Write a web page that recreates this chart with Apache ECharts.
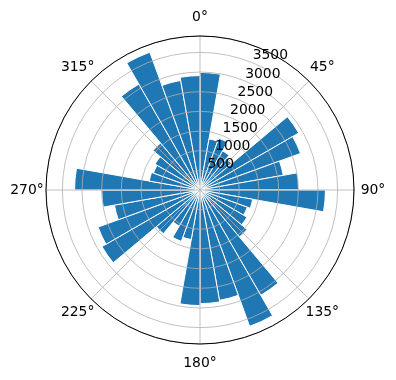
<!DOCTYPE html>
<html>
<head>
<meta charset="utf-8">
<script src="https://cdn.jsdelivr.net/npm/echarts@6/dist/echarts.min.js"></script>
<style>
  html, body { margin: 0; padding: 0; background: #fff; }
  #main { width: 396px; height: 380px; }
</style>
</head>
<body>
<div id="main"></div>
<script>
// bar centres, degrees clockwise from north (each bar 10° wide)
const directions = [5, 15, 25, 35, 45, 55, 65, 75, 85, 95, 105, 115,
  125, 135, 145, 155, 165, 175, 185, 195, 205, 215, 225, 235,
  245, 255, 265, 275, 285, 295, 305, 315, 325, 335, 345, 355];
const counts = [2990, 1320, 1400, 1150, 1050, 2900, 2720, 2150, 2510, 3190, 1360, 1280,
  1380, 1560, 3090, 3690, 2850, 2890, 2940, 1280, 1390, 1060, 1450, 2880,
  2760, 2210, 2500, 3190, 1310, 1260, 1320, 1560, 3110, 3730, 2830, 2910];
const thetaTicks = [0, 45, 90, 135, 180, 225, 270, 315];
const rTicks = [500, 1000, 1500, 2000, 2500, 3000, 3500];

// matplotlib-like 5% margin on the radial limit
const rMax = Math.max(...counts) * 1.05;

const FONT = 'DejaVu Sans';
const GRID = '#b0b0b0';
const center = [200, 190];
const radius = 154;
const PAD = 19; // theta label centre distance outside the circle

// echarts aligns angle labels by their corner/edge; wrap them in a box so the
// text centre ends up PAD px outside the circle (like matplotlib)
const txt = {fontSize: 13.9, fontFamily: FONT, color: '#000', align: 'center', verticalAlign: 'middle'};
const axBox = 2 * PAD;
const dgBox = 2 * PAD * Math.SQRT1_2;

const chart = echarts.init(document.getElementById('main'), null, {renderer: 'canvas'});

chart.setOption({
  animation: false,
  backgroundColor: '#fff',
  textStyle: {fontFamily: FONT},
  polar: [
    {center: center, radius: radius},   // bars
    {center: center, radius: radius},   // grid + theta labels
    {center: center, radius: radius}    // r labels at 22.5°
  ],
  angleAxis: [
    {
      polarIndex: 0, type: 'category', data: directions.map(d => d + '°'),
      startAngle: 90, clockwise: true, boundaryGap: true,
      axisLine: {show: false}, axisTick: {show: false},
      axisLabel: {show: false}, splitLine: {show: false}
    },
    {
      polarIndex: 1, type: 'value', min: 0, max: 360, interval: 45,
      startAngle: 90, clockwise: true, z: 4,
      axisLine: {show: true, lineStyle: {color: '#000', width: 1}},
      axisTick: {show: false},
      axisLabel: {
        show: true, margin: 0,
        formatter: v => {
          if (!thetaTicks.includes(v)) return '';
          return (v % 90 === 0 ? '{ax|' : '{dg|') + v + '°}';
        },
        rich: {
          ax: Object.assign({width: axBox, height: axBox, lineHeight: axBox}, txt),
          dg: Object.assign({width: dgBox, height: dgBox, lineHeight: dgBox}, txt)
        }
      },
      splitLine: {show: true, lineStyle: {color: GRID, width: 0.8}}
    },
    {
      polarIndex: 2, type: 'value', min: 0, max: 360,
      startAngle: 67.5, clockwise: true, show: false
    }
  ],
  radiusAxis: [
    {polarIndex: 0, type: 'value', min: 0, max: rMax, show: false},
    {
      polarIndex: 1, type: 'value', min: 0, max: rMax, interval: 500, z: 3,
      axisLine: {show: false}, axisTick: {show: false}, axisLabel: {show: false},
      splitLine: {show: true, lineStyle: {color: GRID, width: 0.8}}
    },
    {
      polarIndex: 2, type: 'value', min: 0, max: rMax, interval: 500, z: 5,
      axisLine: {show: false}, axisTick: {show: false}, splitLine: {show: false},
      axisLabel: {
        show: true, margin: 0, color: '#000', fontSize: 13.9, fontFamily: FONT,
        align: 'left', verticalAlign: 'bottom',
        formatter: v => rTicks.includes(v) ? String(v) : ''
      }
    }
  ],
  series: [
    {
      type: 'bar',
      coordinateSystem: 'polar',
      polarIndex: 0,
      data: counts,
      barCategoryGap: '0%',
      itemStyle: {color: '#1f77b4', borderColor: '#fff', borderWidth: 1},
      z: 2
    }
  ]
});
</script>
</body>
</html>
